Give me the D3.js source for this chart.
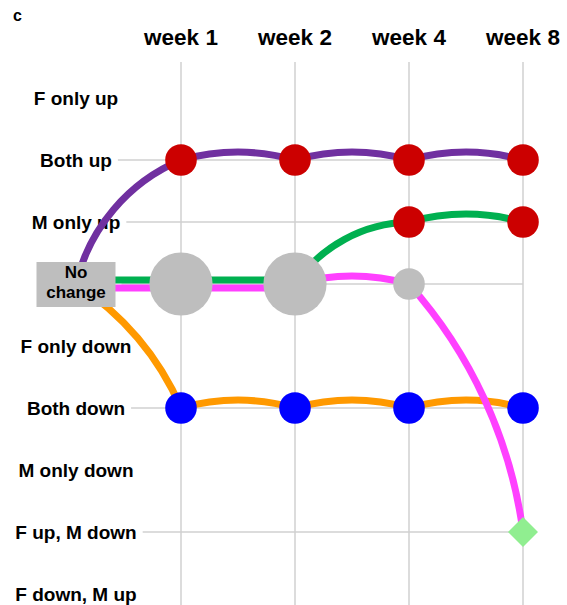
<!DOCTYPE html>
<html>
<head>
<meta charset="utf-8">
<script src="https://cdn.jsdelivr.net/npm/d3@7"></script>
<style>
body { margin: 0; background: #fff; }
text { font-family: "Liberation Sans", Arial, Helvetica, sans-serif; font-weight: bold; fill: #000; }
</style>
</head>
<body>
<div class="board"></div>
<script>

// categories
var rows = ["F only up", "Both up", "M only up", "No change", "F only down",
            "Both down", "M only down", "F up, M down", "F down, M up"];
var weeks = ["week 1", "week 2", "week 4", "week 8"];
var startRow = "No change";

// each series: its state at week 1, 2, 4, 8 (all start at "No change")
var seriesPurple  = ["Both up", "Both up", "Both up", "Both up"];
var seriesOrange  = ["Both down", "Both down", "Both down", "Both down"];
var seriesGreen   = ["No change", "No change", "M only up", "M only up"];
var seriesMagenta = ["No change", "No change", "No change", "F up, M down"];

var series = [seriesPurple, seriesOrange, seriesGreen, seriesMagenta];
var seriesColors = ["#7030a0", "#ff9900", "#00b050", "#ff40ff"];

var markerColor = {
  "F only up": "#cc0000", "Both up": "#cc0000", "M only up": "#cc0000",
  "No change": "#bebebe",
  "F only down": "#0000ff", "Both down": "#0000ff", "M only down": "#0000ff",
  "F up, M down": "#90ee90", "F down, M up": "#90ee90"
};
var diamondRows = ["F up, M down", "F down, M up"];

var width = 567, height = 605;
var labelX = 76;

var svg = d3.select('.board').append('svg')
            .attr('width', width)
            .attr('height', height);

var x = d3.scalePoint().domain(weeks).range([181, 523]);
var y = d3.scalePoint().domain(rows).range([98, 594]);
var r = d3.scaleLinear().domain([0, 1]).range([0, 15.8]);

var colX = function(j) { return j === 0 ? labelX : x(weeks[j - 1]); };

// panel letter
svg.append('text')
   .attr('x', 13).attr('y', 21)
   .style('font-size', '16px')
   .text('c');

// count points at each week
var nodes = [];
weeks.forEach(function(w, wi) {
  var counts = d3.rollup(series, function(v) { return v.length; }, function(s) { return s[wi]; });
  counts.forEach(function(n, row) { nodes.push({week: w, row: row, n: n}); });
});
var usedRows = new Set(nodes.map(function(d) { return d.row; }));

// vertical grid
svg.append('g').selectAll('line')
   .data(weeks).enter().append('line')
   .attr('x1', function(d) { return x(d); })
   .attr('x2', function(d) { return x(d); })
   .attr('y1', 62).attr('y2', height)
   .attr('stroke', '#d0d0d0').attr('stroke-width', 1.5);

// row labels
var labels = svg.append('g').selectAll('text')
   .data(rows.filter(function(d) { return d !== startRow; })).enter().append('text')
   .attr('x', labelX)
   .attr('y', function(d) { return y(d); })
   .attr('dy', '0.35em')
   .attr('text-anchor', 'middle')
   .style('font-size', '19px')
   .text(function(d) { return d; });

var boxW = 79, boxH = 45;

// horizontal grid, only for rows that hold points
var labelEnd = {};
labels.each(function(d) { labelEnd[d] = labelX + this.getComputedTextLength() / 2; });
labelEnd[startRow] = labelX + boxW / 2;

svg.insert('g', 'g').selectAll('line')
   .data(rows.filter(function(d) { return usedRows.has(d); })).enter().append('line')
   .attr('x1', function(d) { return labelEnd[d] + 6; })
   .attr('x2', x(weeks[weeks.length - 1]))
   .attr('y1', function(d) { return y(d); })
   .attr('y2', function(d) { return y(d); })
   .attr('stroke', '#d0d0d0').attr('stroke-width', 1.5);

// week headers
svg.append('g').selectAll('text')
   .data(weeks).enter().append('text')
   .attr('x', function(d) { return x(d); })
   .attr('y', 45)
   .attr('text-anchor', 'middle')
   .style('font-size', '22.5px')
   .text(function(d) { return d; });

// segments, shared ones drawn straight side by side
var segs = [];
series.forEach(function(s, si) {
  var pts = [startRow].concat(s);
  for (var j = 0; j < s.length; j++) {
    segs.push({si: si, j: j, from: pts[j], to: pts[j + 1], key: j + '|' + pts[j] + '|' + pts[j + 1]});
  }
});
var groups = d3.group(segs, function(d) { return d.key; });

var segPath = function(d) {
  var g = groups.get(d.key);
  var x0 = colX(d.j), x1 = colX(d.j + 1);
  var y0 = y(d.from), y1 = y(d.to);
  if (g.length > 1) {
    var off = (g.indexOf(d) - (g.length - 1) / 2) * 8;
    return 'M' + x0 + ',' + (y0 + off) + 'L' + x1 + ',' + (y1 + off);
  }
  var c = Math.hypot(x1 - x0, y1 - y0);
  var ratio = y1 < y0 ? 0.12 : (y1 > y0 ? 0.075 : 0.068);
  var sag = c * ratio;
  var rad = (c * c / 4 + sag * sag) / (2 * sag);
  return 'M' + x0 + ',' + y0 + 'A' + rad + ',' + rad + ' 0 0,1 ' + x1 + ',' + y1;
};

svg.append('g').selectAll('path')
   .data(segs).enter().append('path')
   .attr('d', segPath)
   .attr('fill', 'none')
   .attr('stroke', function(d) { return seriesColors[d.si]; })
   .attr('stroke-width', 7);

// "No change" start box
var box = svg.append('g');
box.append('rect')
   .attr('x', labelX - boxW / 2).attr('y', y(startRow) - 22)
   .attr('width', boxW).attr('height', boxH)
   .attr('fill', '#bebebe');
box.append('text')
   .attr('x', labelX).attr('y', y(startRow) - 6)
   .attr('text-anchor', 'middle')
   .style('font-size', '17px')
   .text('No');
box.append('text')
   .attr('x', labelX).attr('y', y(startRow) + 13.5)
   .attr('text-anchor', 'middle')
   .style('font-size', '17px')
   .text('change');

// markers
var marks = svg.append('g');
marks.selectAll('circle')
   .data(nodes.filter(function(d) { return diamondRows.indexOf(d.row) < 0; })).enter().append('circle')
   .attr('cx', function(d) { return x(d.week); })
   .attr('cy', function(d) { return y(d.row); })
   .attr('r', function(d) { return r(d.n); })
   .attr('fill', function(d) { return markerColor[d.row]; });

marks.selectAll('path')
   .data(nodes.filter(function(d) { return diamondRows.indexOf(d.row) >= 0; })).enter().append('path')
   .attr('transform', function(d) { return 'translate(' + x(d.week) + ',' + y(d.row) + ') rotate(45)'; })
   .attr('d', function(d) { var h = r(d.n) * 0.67; return 'M' + -h + ',' + -h + 'h' + 2 * h + 'v' + 2 * h + 'h' + -2 * h + 'z'; })
   .attr('fill', function(d) { return markerColor[d.row]; });

</script>
</body>
</html>
